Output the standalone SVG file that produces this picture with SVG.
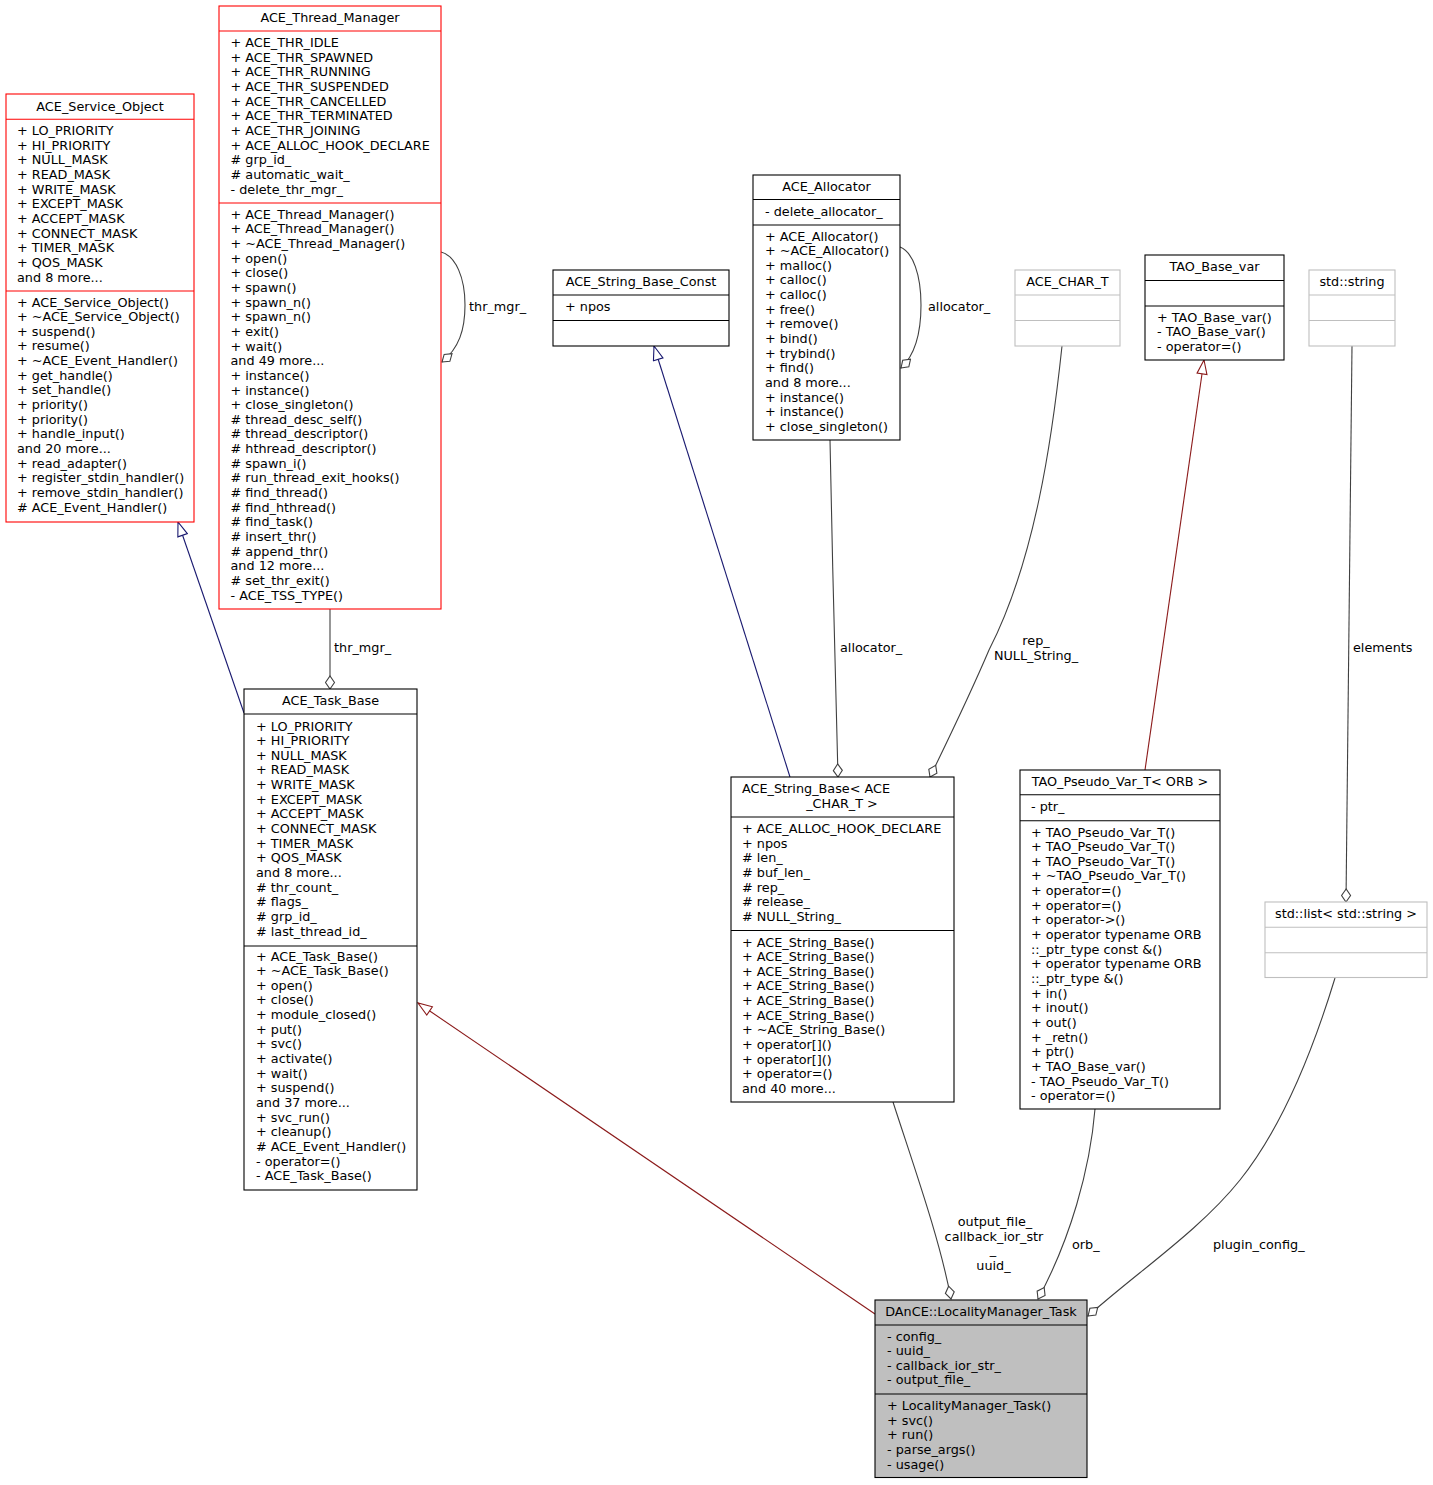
<svg xmlns="http://www.w3.org/2000/svg" width="1433" height="1485" viewBox="0 0 1433 1485">
<style>
.t{font-family:"DejaVu Sans","Liberation Sans",sans-serif;font-size:12.8px;fill:#000}
.c{text-anchor:middle}
.box{fill:#fff;stroke:#000;stroke-width:1.1}
.red{stroke:#ff0000}
.gray{stroke:#bfbfbf}
.fill{fill:#bfbfbf}
.sep{stroke-width:1.1}
.e{fill:none;stroke:#404040;stroke-width:1.1}
.navy{fill:none;stroke:#191970;stroke-width:1.1}
.fire{fill:none;stroke:#8b1a1a;stroke-width:1.1}
</style>
<defs>
<marker id="dia" markerUnits="userSpaceOnUse" viewBox="-1 -1 15 11" refX="13" refY="4.5" markerWidth="15" markerHeight="11" orient="auto">
<path d="M13,4.5 L6.5,0 L0,4.5 L6.5,9 Z" fill="#fff" stroke="#404040" stroke-width="1.1"/>
</marker>
<marker id="triN" markerUnits="userSpaceOnUse" viewBox="-1 -1 16 12" refX="14" refY="5" markerWidth="16" markerHeight="12" orient="auto">
<path d="M14,5 L0,0 L0,10 Z" fill="#fff" stroke="#191970" stroke-width="1.1"/>
</marker>
<marker id="triR" markerUnits="userSpaceOnUse" viewBox="-1 -1 16 12" refX="14" refY="5" markerWidth="16" markerHeight="12" orient="auto">
<path d="M14,5 L0,0 L0,10 Z" fill="#fff" stroke="#8b1a1a" stroke-width="1.1"/>
</marker>
</defs>
<rect width="1433" height="1485" fill="#fff"/>

<g id="edges">
<path class="e" d="M441,252 C456,256 465,278 465,305 C465,330 459,348 442,362" marker-end="url(#dia)"/>
<text class="t" x="469" y="311">thr_mgr_</text>
<path class="e" d="M330,609 L330,689" marker-end="url(#dia)"/>
<text class="t" x="334" y="652">thr_mgr_</text>
<path class="navy" d="M244,713 L178,522" marker-end="url(#triN)"/>
<path class="fire" d="M875,1314 L418,1003" marker-end="url(#triR)"/>
<path class="navy" d="M790,777 L654,346" marker-end="url(#triN)"/>
<path class="e" d="M900,247 C913,252 921,275 921,305 C921,335 915,355 901,368" marker-end="url(#dia)"/>
<text class="t" x="928" y="311">allocator_</text>
<path class="e" d="M830,440 C832,550 836,700 838,777" marker-end="url(#dia)"/>
<text class="t" x="840" y="652">allocator_</text>
<path class="e" d="M1062,346 C1052,440 1035,560 989,650 C972,690 948,740 930,777" marker-end="url(#dia)"/>
<text class="t c" x="1036" y="645">rep_</text>
<text class="t c" x="1036" y="660">NULL_String_</text>
<path class="fire" d="M1145,770 L1204,360" marker-end="url(#triR)"/>
<path class="e" d="M1352,346 L1346,902" marker-end="url(#dia)"/>
<text class="t" x="1353" y="652">elements</text>
<path class="e" d="M893,1102 C915,1170 940,1240 951,1299" marker-end="url(#dia)"/>
<text class="t c" x="995" y="1226">output_file_</text>
<text class="t c" x="994" y="1240.5">callback_ior_str</text>
<text class="t c" x="993" y="1254">_</text>
<text class="t c" x="993.5" y="1270">uuid_</text>
<path class="e" d="M1095,1109 C1090,1170 1070,1240 1038,1299" marker-end="url(#dia)"/>
<text class="t" x="1072" y="1249">orb_</text>
<path class="e" d="M1335,978 C1310,1060 1280,1130 1240,1180 C1200,1230 1140,1270 1088,1316" marker-end="url(#dia)"/>
<text class="t" x="1213" y="1249">plugin_config_</text>
</g>

<g id="ACE_Service_Object">
<rect class="box red" x="6" y="94" width="188" height="428"/>
<line class="red sep" x1="6" y1="119.3" x2="194" y2="119.3"/>
<line class="red sep" x1="6" y1="291" x2="194" y2="291"/>
<text class="t c" x="100" y="110.5">ACE_Service_Object</text>
<text class="t" x="17" y="135"><tspan x="17">+ LO_PRIORITY</tspan><tspan x="17" dy="14.65">+ HI_PRIORITY</tspan><tspan x="17" dy="14.65">+ NULL_MASK</tspan><tspan x="17" dy="14.65">+ READ_MASK</tspan><tspan x="17" dy="14.65">+ WRITE_MASK</tspan><tspan x="17" dy="14.65">+ EXCEPT_MASK</tspan><tspan x="17" dy="14.65">+ ACCEPT_MASK</tspan><tspan x="17" dy="14.65">+ CONNECT_MASK</tspan><tspan x="17" dy="14.65">+ TIMER_MASK</tspan><tspan x="17" dy="14.65">+ QOS_MASK</tspan><tspan x="17" dy="14.65">and 8 more...</tspan></text>
<text class="t" x="17" y="306.5"><tspan x="17">+ ACE_Service_Object()</tspan><tspan x="17" dy="14.65">+ ~ACE_Service_Object()</tspan><tspan x="17" dy="14.65">+ suspend()</tspan><tspan x="17" dy="14.65">+ resume()</tspan><tspan x="17" dy="14.65">+ ~ACE_Event_Handler()</tspan><tspan x="17" dy="14.65">+ get_handle()</tspan><tspan x="17" dy="14.65">+ set_handle()</tspan><tspan x="17" dy="14.65">+ priority()</tspan><tspan x="17" dy="14.65">+ priority()</tspan><tspan x="17" dy="14.65">+ handle_input()</tspan><tspan x="17" dy="14.65">and 20 more...</tspan><tspan x="17" dy="14.65">+ read_adapter()</tspan><tspan x="17" dy="14.65">+ register_stdin_handler()</tspan><tspan x="17" dy="14.65">+ remove_stdin_handler()</tspan><tspan x="17" dy="14.65"># ACE_Event_Handler()</tspan></text>
</g>

<g id="ACE_Thread_Manager">
<rect class="box red" x="219" y="6" width="222" height="603"/>
<line class="red sep" x1="219" y1="31" x2="441" y2="31"/>
<line class="red sep" x1="219" y1="203" x2="441" y2="203"/>
<text class="t c" x="330" y="22">ACE_Thread_Manager</text>
<text class="t" x="230.5" y="47"><tspan x="230.5">+ ACE_THR_IDLE</tspan><tspan x="230.5" dy="14.65">+ ACE_THR_SPAWNED</tspan><tspan x="230.5" dy="14.65">+ ACE_THR_RUNNING</tspan><tspan x="230.5" dy="14.65">+ ACE_THR_SUSPENDED</tspan><tspan x="230.5" dy="14.65">+ ACE_THR_CANCELLED</tspan><tspan x="230.5" dy="14.65">+ ACE_THR_TERMINATED</tspan><tspan x="230.5" dy="14.65">+ ACE_THR_JOINING</tspan><tspan x="230.5" dy="14.65">+ ACE_ALLOC_HOOK_DECLARE</tspan><tspan x="230.5" dy="14.65"># grp_id_</tspan><tspan x="230.5" dy="14.65"># automatic_wait_</tspan><tspan x="230.5" dy="14.65">- delete_thr_mgr_</tspan></text>
<text class="t" x="230.5" y="218.7"><tspan x="230.5">+ ACE_Thread_Manager()</tspan><tspan x="230.5" dy="14.65">+ ACE_Thread_Manager()</tspan><tspan x="230.5" dy="14.65">+ ~ACE_Thread_Manager()</tspan><tspan x="230.5" dy="14.65">+ open()</tspan><tspan x="230.5" dy="14.65">+ close()</tspan><tspan x="230.5" dy="14.65">+ spawn()</tspan><tspan x="230.5" dy="14.65">+ spawn_n()</tspan><tspan x="230.5" dy="14.65">+ spawn_n()</tspan><tspan x="230.5" dy="14.65">+ exit()</tspan><tspan x="230.5" dy="14.65">+ wait()</tspan><tspan x="230.5" dy="14.65">and 49 more...</tspan><tspan x="230.5" dy="14.65">+ instance()</tspan><tspan x="230.5" dy="14.65">+ instance()</tspan><tspan x="230.5" dy="14.65">+ close_singleton()</tspan><tspan x="230.5" dy="14.65"># thread_desc_self()</tspan><tspan x="230.5" dy="14.65"># thread_descriptor()</tspan><tspan x="230.5" dy="14.65"># hthread_descriptor()</tspan><tspan x="230.5" dy="14.65"># spawn_i()</tspan><tspan x="230.5" dy="14.65"># run_thread_exit_hooks()</tspan><tspan x="230.5" dy="14.65"># find_thread()</tspan><tspan x="230.5" dy="14.65"># find_hthread()</tspan><tspan x="230.5" dy="14.65"># find_task()</tspan><tspan x="230.5" dy="14.65"># insert_thr()</tspan><tspan x="230.5" dy="14.65"># append_thr()</tspan><tspan x="230.5" dy="14.65">and 12 more...</tspan><tspan x="230.5" dy="14.65"># set_thr_exit()</tspan><tspan x="230.5" dy="14.65">- ACE_TSS_TYPE()</tspan></text>
</g>

<g id="ACE_Task_Base">
<rect class="box" x="244" y="689" width="173" height="501"/>
<line class="box" x1="244" y1="714" x2="417" y2="714"/>
<line class="box" x1="244" y1="946" x2="417" y2="946"/>
<text class="t c" x="330.5" y="705">ACE_Task_Base</text>
<text class="t" x="256" y="730.5"><tspan x="256">+ LO_PRIORITY</tspan><tspan x="256" dy="14.65">+ HI_PRIORITY</tspan><tspan x="256" dy="14.65">+ NULL_MASK</tspan><tspan x="256" dy="14.65">+ READ_MASK</tspan><tspan x="256" dy="14.65">+ WRITE_MASK</tspan><tspan x="256" dy="14.65">+ EXCEPT_MASK</tspan><tspan x="256" dy="14.65">+ ACCEPT_MASK</tspan><tspan x="256" dy="14.65">+ CONNECT_MASK</tspan><tspan x="256" dy="14.65">+ TIMER_MASK</tspan><tspan x="256" dy="14.65">+ QOS_MASK</tspan><tspan x="256" dy="14.65">and 8 more...</tspan><tspan x="256" dy="14.65"># thr_count_</tspan><tspan x="256" dy="14.65"># flags_</tspan><tspan x="256" dy="14.65"># grp_id_</tspan><tspan x="256" dy="14.65"># last_thread_id_</tspan></text>
<text class="t" x="256" y="960.5"><tspan x="256">+ ACE_Task_Base()</tspan><tspan x="256" dy="14.65">+ ~ACE_Task_Base()</tspan><tspan x="256" dy="14.65">+ open()</tspan><tspan x="256" dy="14.65">+ close()</tspan><tspan x="256" dy="14.65">+ module_closed()</tspan><tspan x="256" dy="14.65">+ put()</tspan><tspan x="256" dy="14.65">+ svc()</tspan><tspan x="256" dy="14.65">+ activate()</tspan><tspan x="256" dy="14.65">+ wait()</tspan><tspan x="256" dy="14.65">+ suspend()</tspan><tspan x="256" dy="14.65">and 37 more...</tspan><tspan x="256" dy="14.65">+ svc_run()</tspan><tspan x="256" dy="14.65">+ cleanup()</tspan><tspan x="256" dy="14.65"># ACE_Event_Handler()</tspan><tspan x="256" dy="14.65">- operator=()</tspan><tspan x="256" dy="14.65">- ACE_Task_Base()</tspan></text>
</g>

<g id="ACE_String_Base_Const">
<rect class="box" x="553" y="270" width="176" height="76"/>
<line class="box" x1="553" y1="295" x2="729" y2="295"/>
<line class="box" x1="553" y1="320.5" x2="729" y2="320.5"/>
<text class="t c" x="641" y="286">ACE_String_Base_Const</text>
<text class="t" x="565" y="311">+ npos</text>
</g>

<g id="ACE_Allocator">
<rect class="box" x="753" y="175" width="147" height="265"/>
<line class="box" x1="753" y1="199.5" x2="900" y2="199.5"/>
<line class="box" x1="753" y1="225" x2="900" y2="225"/>
<text class="t c" x="826.5" y="191">ACE_Allocator</text>
<text class="t" x="765" y="215.5">- delete_allocator_</text>
<text class="t" x="765" y="240.5"><tspan x="765">+ ACE_Allocator()</tspan><tspan x="765" dy="14.65">+ ~ACE_Allocator()</tspan><tspan x="765" dy="14.65">+ malloc()</tspan><tspan x="765" dy="14.65">+ calloc()</tspan><tspan x="765" dy="14.65">+ calloc()</tspan><tspan x="765" dy="14.65">+ free()</tspan><tspan x="765" dy="14.65">+ remove()</tspan><tspan x="765" dy="14.65">+ bind()</tspan><tspan x="765" dy="14.65">+ trybind()</tspan><tspan x="765" dy="14.65">+ find()</tspan><tspan x="765" dy="14.65">and 8 more...</tspan><tspan x="765" dy="14.65">+ instance()</tspan><tspan x="765" dy="14.65">+ instance()</tspan><tspan x="765" dy="14.65">+ close_singleton()</tspan></text>
</g>

<g id="ACE_CHAR_T">
<rect class="box gray" x="1015" y="270" width="105" height="76"/>
<line class="gray sep" x1="1015" y1="295" x2="1120" y2="295"/>
<line class="gray sep" x1="1015" y1="320.5" x2="1120" y2="320.5"/>
<text class="t c" x="1067.5" y="286">ACE_CHAR_T</text>
</g>

<g id="TAO_Base_var">
<rect class="box" x="1145" y="255" width="139" height="105"/>
<line class="box" x1="1145" y1="280.5" x2="1284" y2="280.5"/>
<line class="box" x1="1145" y1="306" x2="1284" y2="306"/>
<text class="t c" x="1214.5" y="271">TAO_Base_var</text>
<text class="t" x="1157" y="321.5"><tspan x="1157">+ TAO_Base_var()</tspan><tspan x="1157" dy="14.65">- TAO_Base_var()</tspan><tspan x="1157" dy="14.65">- operator=()</tspan></text>
</g>

<g id="std_string">
<rect class="box gray" x="1309" y="270" width="86" height="76"/>
<line class="gray sep" x1="1309" y1="295" x2="1395" y2="295"/>
<line class="gray sep" x1="1309" y1="320.5" x2="1395" y2="320.5"/>
<text class="t c" x="1352" y="286">std::string</text>
</g>

<g id="ACE_String_Base">
<rect class="box" x="731" y="777" width="223" height="325"/>
<line class="box" x1="731" y1="817" x2="954" y2="817"/>
<line class="box" x1="731" y1="930.5" x2="954" y2="930.5"/>
<text class="t" x="742" y="793">ACE_String_Base&lt; ACE</text>
<text class="t c" x="842" y="807.5">_CHAR_T &gt;</text>
<text class="t" x="742" y="833"><tspan x="742">+ ACE_ALLOC_HOOK_DECLARE</tspan><tspan x="742" dy="14.65">+ npos</tspan><tspan x="742" dy="14.65"># len_</tspan><tspan x="742" dy="14.65"># buf_len_</tspan><tspan x="742" dy="14.65"># rep_</tspan><tspan x="742" dy="14.65"># release_</tspan><tspan x="742" dy="14.65"># NULL_String_</tspan></text>
<text class="t" x="742" y="946.5"><tspan x="742">+ ACE_String_Base()</tspan><tspan x="742" dy="14.65">+ ACE_String_Base()</tspan><tspan x="742" dy="14.65">+ ACE_String_Base()</tspan><tspan x="742" dy="14.65">+ ACE_String_Base()</tspan><tspan x="742" dy="14.65">+ ACE_String_Base()</tspan><tspan x="742" dy="14.65">+ ACE_String_Base()</tspan><tspan x="742" dy="14.65">+ ~ACE_String_Base()</tspan><tspan x="742" dy="14.65">+ operator[]()</tspan><tspan x="742" dy="14.65">+ operator[]()</tspan><tspan x="742" dy="14.65">+ operator=()</tspan><tspan x="742" dy="14.65">and 40 more...</tspan></text>
</g>

<g id="TAO_Pseudo_Var_T">
<rect class="box" x="1020" y="770" width="200" height="339"/>
<line class="box" x1="1020" y1="794.7" x2="1220" y2="794.7"/>
<line class="box" x1="1020" y1="820.7" x2="1220" y2="820.7"/>
<text class="t c" x="1120" y="786">TAO_Pseudo_Var_T&lt; ORB &gt;</text>
<text class="t" x="1031" y="810.5">- ptr_</text>
<text class="t" x="1031" y="836.5"><tspan x="1031">+ TAO_Pseudo_Var_T()</tspan><tspan x="1031" dy="14.65">+ TAO_Pseudo_Var_T()</tspan><tspan x="1031" dy="14.65">+ TAO_Pseudo_Var_T()</tspan><tspan x="1031" dy="14.65">+ ~TAO_Pseudo_Var_T()</tspan><tspan x="1031" dy="14.65">+ operator=()</tspan><tspan x="1031" dy="14.65">+ operator=()</tspan><tspan x="1031" dy="14.65">+ operator-&gt;()</tspan><tspan x="1031" dy="14.65">+ operator typename ORB</tspan><tspan x="1031" dy="14.65">::_ptr_type const &amp;()</tspan><tspan x="1031" dy="14.65">+ operator typename ORB</tspan><tspan x="1031" dy="14.65">::_ptr_type &amp;()</tspan><tspan x="1031" dy="14.65">+ in()</tspan><tspan x="1031" dy="14.65">+ inout()</tspan><tspan x="1031" dy="14.65">+ out()</tspan><tspan x="1031" dy="14.65">+ _retn()</tspan><tspan x="1031" dy="14.65">+ ptr()</tspan><tspan x="1031" dy="14.65">+ TAO_Base_var()</tspan><tspan x="1031" dy="14.65">- TAO_Pseudo_Var_T()</tspan><tspan x="1031" dy="14.65">- operator=()</tspan></text>
</g>

<g id="std_list">
<rect class="box gray" x="1265" y="902" width="162" height="75.5"/>
<line class="gray sep" x1="1265" y1="927.3" x2="1427" y2="927.3"/>
<line class="gray sep" x1="1265" y1="952.7" x2="1427" y2="952.7"/>
<text class="t c" x="1346" y="918">std::list&lt; std::string &gt;</text>
</g>

<g id="LocalityManager_Task">
<rect class="box fill" x="875" y="1300" width="212" height="177.5"/>
<line class="box" x1="875" y1="1325" x2="1087" y2="1325"/>
<line class="box" x1="875" y1="1394" x2="1087" y2="1394"/>
<text class="t c" x="981" y="1316">DAnCE::LocalityManager_Task</text>
<text class="t" x="887" y="1340.5"><tspan x="887">- config_</tspan><tspan x="887" dy="14.65">- uuid_</tspan><tspan x="887" dy="14.65">- callback_ior_str_</tspan><tspan x="887" dy="14.65">- output_file_</tspan></text>
<text class="t" x="887" y="1410"><tspan x="887">+ LocalityManager_Task()</tspan><tspan x="887" dy="14.65">+ svc()</tspan><tspan x="887" dy="14.65">+ run()</tspan><tspan x="887" dy="14.65">- parse_args()</tspan><tspan x="887" dy="14.65">- usage()</tspan></text>
</g>
</svg>
